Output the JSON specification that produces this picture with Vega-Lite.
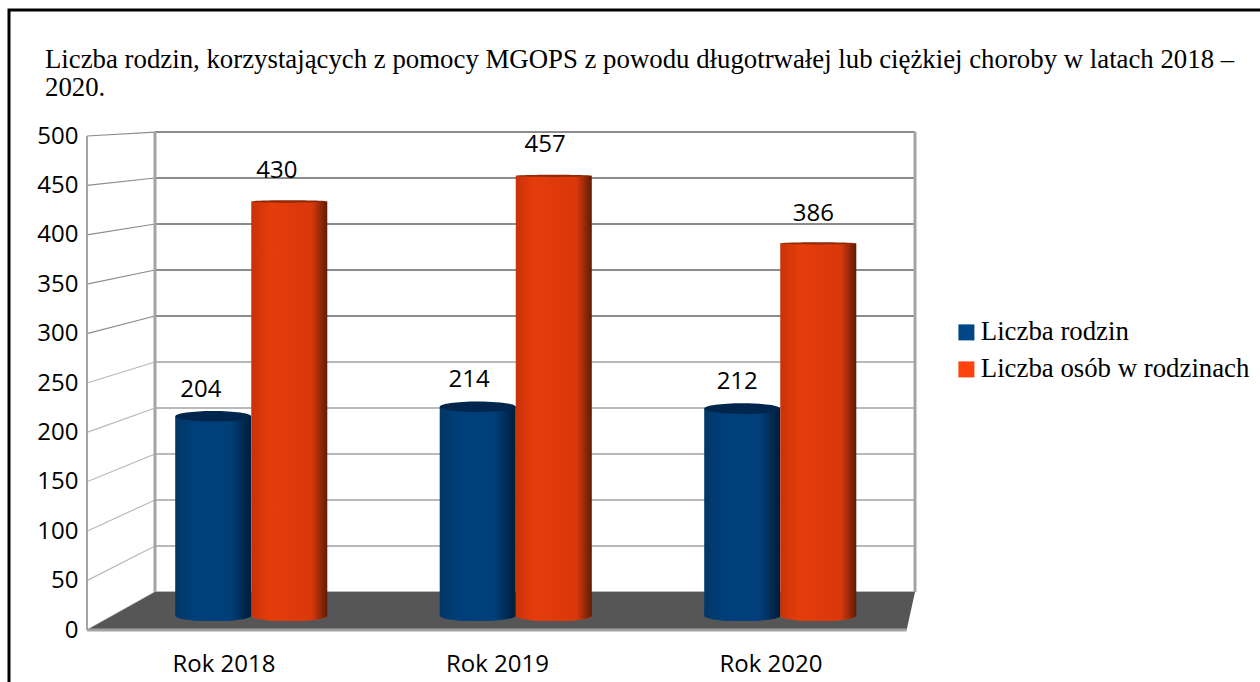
{
"$schema":"https://vega.github.io/schema/vega-lite/v6.json",
"width":1300,"height":720,
"padding":{"left":9,"top":10,"right":0,"bottom":0},
"autosize":"none",
"background":"white",
"view":{"stroke":"black","strokeWidth":3,"fill":"white"},
"title":{"text":["Liczba rodzin, korzystających z pomocy MGOPS z powodu długotrwałej lub ciężkiej choroby w latach 2018 –","2020."],"anchor":"start","frame":"group","orient":"top","baseline":"top","offset":-92,"dx":36,"font":"Liberation Serif","fontSize":26.8,"fontWeight":"normal","color":"black","lineHeight":28},
"datasets":{
"bars":[
{"year":"Rok 2018","series":"Liczba rodzin","value":204},
{"year":"Rok 2018","series":"Liczba osób w rodzinach","value":430},
{"year":"Rok 2019","series":"Liczba rodzin","value":214},
{"year":"Rok 2019","series":"Liczba osób w rodzinach","value":457},
{"year":"Rok 2020","series":"Liczba rodzin","value":212},
{"year":"Rok 2020","series":"Liczba osób w rodzinach","value":386}],
"grid":[{"v":0,"back":38.5},{"v":50,"back":85},{"v":100,"back":131.6},{"v":150,"back":178.2},{"v":200,"back":224.7},{"v":250,"back":271.3},{"v":300,"back":317.8},{"v":350,"back":364.4},{"v":400,"back":410.9},{"v":450,"back":457.5},{"v":500,"back":504}],
"floor":[{"level":38.5,"left":0,"right":1},{"level":0,"left":-0.0895,"right":0.989}]
},
"resolve":{"scale":{"x":"independent","y":"independent"},"axis":{"x":"independent","y":"independent"}},
"layer":[
{"data":{"name":"grid"},"mark":{"type":"rule","strokeWidth":2},
 "encoding":{
  "x":{"datum":0,"type":"quantitative","axis":null,"scale":{"domain":[0,1],"range":[146,906]}},
  "x2":{"datum":1},
  "y":{"field":"back","type":"quantitative","axis":null,"scale":{"domain":[0,500],"range":[620,126]}},
  "stroke":{"condition":{"test":"datum.v>=300","value":"#8c8c8c"},"value":"#b9b9b9"}}},
{"data":{"name":"grid"},"mark":{"type":"rule","strokeWidth":1.2},
 "encoding":{
  "x":{"datum":-0.0895,"type":"quantitative","axis":null,"scale":{"domain":[0,1],"range":[146,906]}},
  "x2":{"datum":0},
  "y":{"field":"v","type":"quantitative","title":null,"scale":{"domain":[0,500],"range":[620,126]},
   "axis":{"orient":"left","offset":-78,"values":[0,50,100,150,200,250,300,350,400,450,500],"domain":false,"ticks":false,"grid":false,"labelPadding":9,"labelFont":"Open Sans","labelFontSize":24,"labelColor":"black"}},
  "y2":{"field":"back"},
  "stroke":{"condition":{"test":"datum.v>=300","value":"#8c8c8c"},"value":"#b9b9b9"}}},
{"data":{"name":"floor"},"mark":{"type":"area","orient":"horizontal","color":"#565656"},
 "encoding":{
  "x":{"field":"left","type":"quantitative","axis":null,"scale":{"domain":[0,1],"range":[146,906]}},
  "x2":{"field":"right"},
  "y":{"field":"level","type":"quantitative","axis":null,"scale":{"domain":[0,500],"range":[620,126]}}}},
{"data":{"values":[{"at":0},{"at":1}]},"mark":{"type":"rule","strokeWidth":3,"color":"#a3a3a3"},
 "encoding":{
  "x":{"field":"at","type":"quantitative","axis":null,"scale":{"domain":[0,1],"range":[146,906]}},
  "y":{"datum":38.5,"type":"quantitative","axis":null,"scale":{"domain":[0,500],"range":[620,126]}},
  "y2":{"datum":504}}},
{"data":{"values":[{"at":-0.0895}]},"mark":{"type":"rule","strokeWidth":2,"color":"#a3a3a3"},
 "encoding":{
  "x":{"field":"at","type":"quantitative","axis":null,"scale":{"domain":[0,1],"range":[146,906]}},
  "y":{"datum":0,"type":"quantitative","axis":null,"scale":{"domain":[0,500],"range":[620,126]}},
  "y2":{"datum":500}}},
{"data":{"values":[{"at":0}]},"mark":{"type":"rule","strokeWidth":3,"color":"#a3a3a3"},
 "encoding":{
  "x":{"datum":-0.0895,"type":"quantitative","axis":null,"scale":{"domain":[0,1],"range":[146,906]}},
  "x2":{"datum":0.989},
  "y":{"field":"at","type":"quantitative","axis":null,"scale":{"domain":[0,500],"range":[620,126]}}}},
{"data":{"values":[{"year":"Rok 2018"},{"year":"Rok 2019"},{"year":"Rok 2020"}]},"mark":{"type":"point","opacity":0},
 "encoding":{
  "x":{"field":"year","type":"nominal","title":null,"scale":{"type":"band","paddingInner":0,"paddingOuter":0,"range":[78.25,898.75]},
   "axis":{"orient":"bottom","offset":-80,"domain":false,"ticks":false,"grid":false,"labelAngle":0,"labelPadding":2,"labelFont":"Open Sans","labelFontSize":24,"labelColor":"black"}}}},
{"data":{"name":"bars"},
 "encoding":{
  "x":{"field":"year","type":"nominal","axis":null,"scale":{"type":"band","paddingInner":0.425,"paddingOuter":0.2125,"range":[110,903.5]}},
  "xOffset":{"field":"series","type":"nominal","scale":{"domain":["Liczba rodzin","Liczba osób w rodzinach"]}},
  "y":{"field":"value","type":"quantitative","axis":null,"scale":{"domain":[0,500],"range":[600,125]}}},
 "layer":[
  {"mark":{"type":"point","filled":true,"opacity":1,"size":5776,"shape":"M-1,0 A1,.14 0 1 1 1,0 A1,.14 0 1 1 -1,0 Z"},
   "encoding":{"y":{"datum":-6,"type":"quantitative"},
    "color":{"field":"series","type":"nominal","title":null,"scale":{"domain":["Liczba rodzin","Liczba osób w rodzinach"],"range":["#004586","#ff420e"]},
     "legend":{"orient":"none","legendX":944,"legendY":309,"padding":0,"symbolType":"square","symbolSize":256,"labelFont":"Liberation Serif","labelFontSize":26.8,"labelLimit":400,"labelColor":"black","labelOffset":1,"rowPadding":9,"titlePadding":0}}}},
  {"transform":[{"filter":"datum.series==='Liczba rodzin'"}],
   "layer":[
    {"mark":{"type":"bar","color":{"x1":0,"x2":1,"y1":0,"y2":0,"gradient":"linear","stops":[{"offset":0,"color":"#023766"},{"offset":0.25,"color":"#003f7a"},{"offset":0.72,"color":"#003f7a"},{"offset":1,"color":"#001c3a"}]}},
     "encoding":{"y2":{"datum":-6}}},
    {"mark":{"type":"point","filled":true,"opacity":1,"size":5776,"shape":"M-1,0 A1,.14 0 1 1 1,0 A1,.14 0 1 1 -1,0 Z","fill":{"x1":0,"x2":1,"y1":0,"y2":0,"gradient":"linear","stops":[{"offset":0,"color":"#023766"},{"offset":0.25,"color":"#003f7a"},{"offset":0.72,"color":"#003f7a"},{"offset":1,"color":"#001c3a"}]}},
     "encoding":{"y":{"datum":-6,"type":"quantitative"}}},
    {"mark":{"type":"point","filled":true,"opacity":1,"size":5776,"color":"#00264d","shape":"M-1,0 A1,.14 0 1 1 1,0 A1,.14 0 1 1 -1,0 Z"}}
   ]},
  {"transform":[{"filter":"datum.series!=='Liczba rodzin'"}],
   "layer":[
    {"mark":{"type":"bar","color":{"x1":0,"x2":1,"y1":0,"y2":0,"gradient":"linear","stops":[{"offset":0,"color":"#c93208"},{"offset":0.25,"color":"#e63c0c"},{"offset":0.8,"color":"#d8380b"},{"offset":1,"color":"#5e1c05"}]}},
     "encoding":{"y2":{"datum":-6}}},
    {"mark":{"type":"point","filled":true,"opacity":1,"size":5776,"shape":"M-1,0 A1,.14 0 1 1 1,0 A1,.14 0 1 1 -1,0 Z","fill":{"x1":0,"x2":1,"y1":0,"y2":0,"gradient":"linear","stops":[{"offset":0,"color":"#c93208"},{"offset":0.25,"color":"#e63c0c"},{"offset":0.8,"color":"#d8380b"},{"offset":1,"color":"#5e1c05"}]}},
     "encoding":{"y":{"datum":-6,"type":"quantitative"}}},
    {"mark":{"type":"point","filled":true,"opacity":1,"size":5776,"color":"#8f2a08","shape":"M-1,0 A1,.03 0 1 1 1,0 A1,.03 0 1 1 -1,0 Z"}}
   ]}
 ]},
{"data":{"name":"bars"},"mark":{"type":"text","font":"Open Sans","fontSize":24,"color":"black","baseline":"middle"},
 "encoding":{
  "x":{"field":"year","type":"nominal","axis":null,"scale":{"type":"band","paddingInner":0.428,"paddingOuter":0.214,"range":[96.4,901]}},
  "xOffset":{"field":"series","type":"nominal","scale":{"domain":["Liczba rodzin","Liczba osób w rodzinach"]}},
  "y":{"field":"value","type":"quantitative","axis":null,"scale":{"domain":[0,500],"range":[577.5,93.5]}},
  "text":{"field":"value","type":"quantitative"}}}
]
}
